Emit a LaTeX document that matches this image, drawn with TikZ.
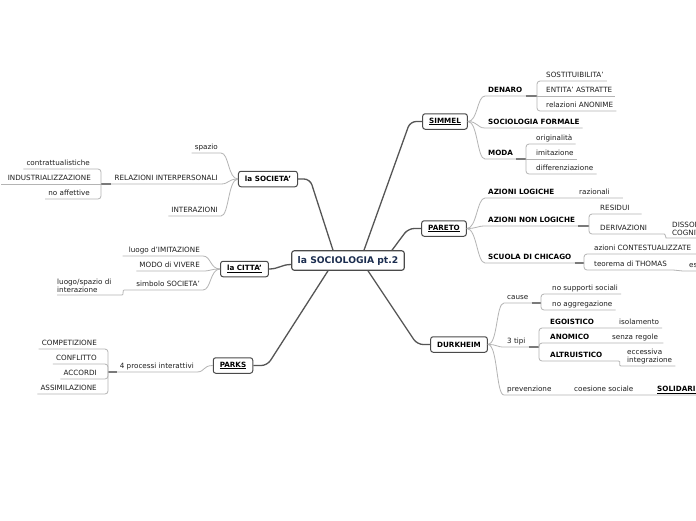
\documentclass[tikz,border=0pt]{standalone}
\usepackage{fontspec}
\setmainfont{DejaVu Sans}
\usetikzlibrary{calc}
\definecolor{mainline}{HTML}{555555}
\definecolor{subline}{HTML}{B4B4B4}
\definecolor{jointc}{HTML}{7A7A7A}
\definecolor{boxline}{HTML}{4A4A4A}
\definecolor{navy}{HTML}{1B2D4F}
\definecolor{txt}{HTML}{1E1E1E}
\begin{document}
\begin{tikzpicture}[x=1pt,y=-1pt,
  t/.style={font=\fontsize{7.2}{8}\selectfont, text=txt, inner xsep=3pt, inner ysep=0pt, text height=5.5pt, text depth=3.3pt},
  tb/.style={t, font=\fontsize{7.2}{8}\selectfont\bfseries, text=black},
  tm/.style={font=\fontsize{7.2}{7.8}\selectfont, text=txt, inner xsep=3pt, inner ysep=2pt, align=left},
  topic/.style={draw=boxline, line width=1pt, rounded corners=2.5pt, fill=white, font=\fontsize{7.2}{8}\selectfont\bfseries, inner xsep=6.5pt, inner ysep=0pt, minimum height=15.5pt, text=black},
  central/.style={topic, font=\fontsize{9.2}{10}\selectfont\bfseries, text=navy, inner xsep=6pt, minimum height=19.5pt, line width=1.1pt},
  main/.style={draw=mainline, line width=1.3pt, rounded corners=6pt},
  sub/.style={draw=subline, line width=0.8pt},
  joint/.style={draw=jointc, line width=1.6pt},
  brk/.style={sub, rounded corners=3pt},
]
\fill[white] (0,0) rectangle (696,520);
\clip (0,0) rectangle (696,520);

% ---------- topics ----------
\node[central] (cent) at (348,260.5) {la SOCIOLOGIA pt.2};
\node[topic] (simmel) at (445,121.5) {\underline{SIMMEL}};
\node[topic] (pareto) at (444,228.5) {\underline{PARETO}};
\node[topic] (durk) at (459,344.5) {DURKHEIM};
\node[topic] (soc) at (268,179) {la SOCIETA'};
\node[topic] (citta) at (244.5,269) {\underline{la CITTA'}};
\node[topic] (parks) at (233,365.5) {\underline{PARKS}};

\draw[main] ([xshift=16pt]cent.north) -- ([xshift=-12pt]simmel.west) -- (simmel.west);
\draw[main] ([xshift=44pt]cent.north) -- ([xshift=-13pt]pareto.west) -- (pareto.west);
\draw[main] ([xshift=20pt]cent.south) -- ([xshift=-13pt]durk.west) -- (durk.west);
\draw[main] ([xshift=-15pt]cent.north) -- ([xshift=12pt]soc.east) -- (soc.east);
\draw[main] ([yshift=-4pt]cent.west) .. controls +(-10,0) and +(10,0) .. (citta.east);
\draw[main] ([xshift=-20pt]cent.south) -- ([xshift=14pt]parks.east) -- (parks.east);

% ---------- SIMMEL ----------
\node[tb, anchor=south west] (denaro) at (485,96) {DENARO};
\node[tb, anchor=south west] (socform) at (485,128) {SOCIOLOGIA FORMALE};
\node[tb, anchor=south west] (moda) at (485,159) {MODA};
\coordinate (jden) at (537,96);
\coordinate (jmoda) at (526,159);
\draw[sub] (simmel.east) .. controls +(10,0) and +(-8,0) .. (denaro.south west) -- (jden);
\draw[sub] (simmel.east) .. controls +(10,0) and +(-8,0) .. (socform.south west) -- (socform.south east);
\draw[sub] (simmel.east) .. controls +(10,0) and +(-8,0) .. (moda.south west) -- (jmoda);
\draw[joint] (denaro.south east) -- (jden);
\draw[joint] (moda.south east) -- (jmoda);

\node[t, anchor=south west] (sost) at (543,81) {SOSTITUIBILITA'};
\node[t, anchor=south west] (entita) at (543,96) {ENTITA' ASTRATTE};
\node[t, anchor=south west] (relan) at (543,111) {relazioni ANONIME};
\draw[brk] (jden) |- (sost.south east);
\draw[brk] (jden) -- (entita.south east);
\draw[brk] (jden) |- (relan.south east);

\node[t, anchor=south west] (orig) at (533,144) {originalità};
\node[t, anchor=south west] (imit) at (533,159) {imitazione};
\node[t, anchor=south west] (diff) at (533,174) {differenziazione};
\draw[brk] (jmoda) |- (orig.south east);
\draw[brk] (jmoda) -- (imit.south east);
\draw[brk] (jmoda) |- (diff.south east);

% ---------- PARETO ----------
\node[tb, anchor=south west] (azlog) at (485,198) {AZIONI LOGICHE};
\node[t, anchor=south west] (raz) at (576,198) {razionali};
\node[tb, anchor=south west] (aznon) at (485,226) {AZIONI NON LOGICHE};
\node[tb, anchor=south west] (chic) at (485,263) {SCUOLA DI CHICAGO};
\coordinate (jnon) at (589,226);
\coordinate (jchic) at (584,263);
\draw[sub] (pareto.east) .. controls +(10,0) and +(-8,0) .. (azlog.south west) -- ([xshift=10pt]raz.south east);
\draw[sub] (pareto.east) .. controls +(10,0) and +(-8,0) .. (aznon.south west) -- (jnon);
\draw[sub] (pareto.east) .. controls +(10,0) and +(-8,0) .. (chic.south west) -- (jchic);
\draw[joint] (aznon.south east) -- (jnon);
\draw[joint] (chic.south east) -- (jchic);

\node[t, anchor=south west] (resid) at (597,214) {RESIDUI};
\node[t, anchor=south west] (deriv) at (597,234) {DERIVAZIONI};
\node[tm, anchor=south west] (diss) at (669,238) {DISSONANZA\\COGNITIVA};
\draw[brk] (jnon) |- ([xshift=9pt]resid.south east);
\draw[brk] (jnon) |- ([xshift=11pt]deriv.south east) .. controls +(4,0) and +(-3,0) .. (diss.south west) -- (diss.south east);

\node[t, anchor=south west] (contest) at (591,254) {azioni CONTESTUALIZZATE};
\node[t, anchor=south west] (thomas) at (591,270) {teorema di THOMAS};
\node[t, anchor=south west] (es) at (686,271) {es};
\draw[brk] (jchic) |- ([xshift=8pt]contest.south east);
\draw[brk] (jchic) |- (thomas.south east) .. controls +(8,0) and +(-8,0) .. (es.south west) -- ([xshift=8pt]es.south east);

% ---------- DURKHEIM ----------
\node[t, anchor=south west] (cause) at (504,303) {cause};
\node[t, anchor=south west] (tipi) at (504,347) {3 tipi};
\node[t, anchor=south west] (prev) at (504,395) {prevenzione};
\node[t, anchor=south west] (coes) at (571,395) {coesione sociale};
\node[tb, anchor=south west] (solid) at (654,395) {\underline{SOLIDARIETA'}};
\coordinate (jcause) at (541,303);
\coordinate (jtipi) at (539,347);
\draw[sub] (durk.east) .. controls +(10,0) and +(-8,0) .. (cause.south west) -- (jcause);
\draw[sub] (durk.east) .. controls +(10,0) and +(-8,0) .. (tipi.south west) -- (jtipi);
\draw[sub] (durk.east) .. controls +(10,0) and +(-8,0) .. (prev.south west) -- (coes.south west) -- (solid.south east);
\draw[joint] (cause.south east) -- (jcause);
\draw[joint] (tipi.south east) -- (jtipi);

\node[t, anchor=south west] (nosup) at (549,294) {no supporti sociali};
\node[t, anchor=south west] (noagg) at (549,310) {no aggregazione};
\draw[brk] (jcause) |- (nosup.south east);
\draw[brk] (jcause) |- (noagg.south east);

\node[tb, anchor=south west] (ego) at (547,328) {EGOISTICO};
\node[t, anchor=south west] (iso) at (616,328) {isolamento};
\node[tb, anchor=south west] (anom) at (547,343) {ANOMICO};
\node[t, anchor=south west] (senza) at (609,343) {senza regole};
\node[tb, anchor=south west] (altr) at (547,361) {ALTRUISTICO};
\node[tm, anchor=south west] (ecc) at (624,366) {eccessiva\\integrazione};
\draw[brk] (jtipi) |- (ego.south west) -- (iso.south east);
\draw[brk] (jtipi) |- (anom.south west) -- ([xshift=2pt]senza.south east);
\draw[brk] (jtipi) |- (altr.south west) -- ([xshift=10pt]altr.south east) .. controls +(6,0) and +(-6,0) .. (ecc.south west) -- (ecc.south east);

% ---------- la SOCIETA' ----------
\node[t, anchor=south east] (spazio) at (221,153) {spazio};
\node[t, anchor=south east] (relint) at (221,184) {RELAZIONI INTERPERSONALI};
\node[t, anchor=south east] (inter) at (221,216) {INTERAZIONI};
\coordinate (jrel) at (101,184);
\draw[sub] (soc.west) .. controls +(-10,0) and +(8,0) .. (spazio.south east) -- (spazio.south west);
\draw[sub] (soc.west) .. controls +(-10,0) and +(8,0) .. (relint.south east) -- (jrel);
\draw[sub] (soc.west) .. controls +(-10,0) and +(8,0) .. (inter.south east) -- (inter.south west);
\draw[joint] (relint.south west) -- (jrel);

\node[t, anchor=south east] (contr) at (93,169) {contrattualistiche};
\node[t, anchor=south east] (indus) at (94,184) {INDUSTRIALIZZAZIONE};
\node[t, anchor=south east] (noaff) at (93,199) {no affettive};
\draw[brk] (jrel) |- (contr.south west);
\draw[brk] (jrel) -- ([xshift=-4pt]indus.south west);
\draw[brk] (jrel) |- (noaff.south west);

% ---------- la CITTA' ----------
\node[t, anchor=south east] (imitaz) at (203,256) {luogo d'IMITAZIONE};
\node[t, anchor=south east] (modo) at (203,271) {MODO di VIVERE};
\node[t, anchor=south east] (simb) at (203,290) {simbolo SOCIETA'};
\node[tm, anchor=south west, inner xsep=0pt] (lsp) at (57,295) {luogo/spazio di\\interazione};
\coordinate (lspR) at (122,295);
\draw[sub] (citta.west) .. controls +(-10,0) and +(8,0) .. (imitaz.south east) -- ([xshift=-3pt]imitaz.south west);
\draw[sub] (citta.west) .. controls +(-10,0) and +(8,0) .. (modo.south east) -- (modo.south west);
\draw[sub] (citta.west) .. controls +(-10,0) and +(8,0) .. (simb.south east) -- ([xshift=-9pt]simb.south west) .. controls +(-2,0) and +(2,0) .. (lspR) -- (lsp.south west);

% ---------- PARKS ----------
\node[t, anchor=south east] (proc) at (197,372) {4 processi interattivi};
\coordinate (jproc) at (108,372);
\draw[sub] (parks.west) .. controls +(-10,0) and +(8,0) .. (proc.south east) -- (jproc);
\draw[joint] (proc.south west) -- (jproc);

\node[t, anchor=south east] (comp) at (100,349) {COMPETIZIONE};
\node[t, anchor=south east] (confl) at (100,364) {CONFLITTO};
\node[t, anchor=south east] (acc) at (100,379) {ACCORDI};
\node[t, anchor=south east] (assim) at (100,394) {ASSIMILAZIONE};
\draw[brk] (jproc) |- (comp.south west);
\draw[brk] (jproc) |- (confl.south west);
\draw[brk] (jproc) |- (acc.south west);
\draw[brk] (jproc) |- (assim.south west);
\end{tikzpicture}
\end{document}
